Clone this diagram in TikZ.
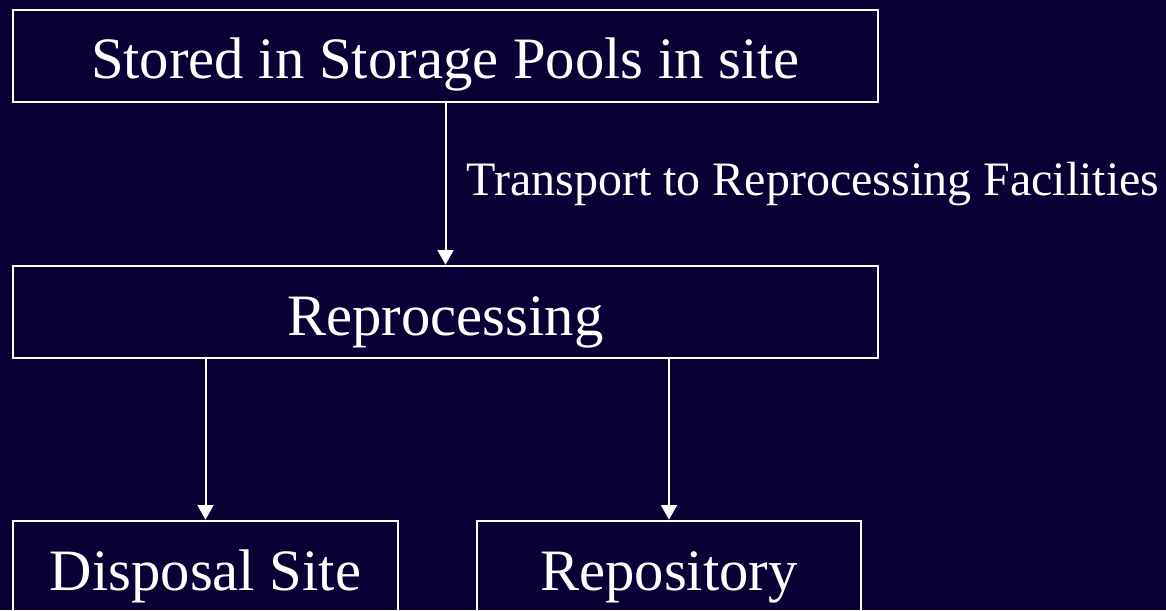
\documentclass[tikz,border=0pt]{standalone}
\usepackage{fontspec}
\setmainfont{Liberation Serif}
\usetikzlibrary{arrows.meta}
\definecolor{slidenavy}{RGB}{10,0,54}

\begin{document}
\begin{tikzpicture}[x=0.75pt,y=-0.75pt,
  stage/.style={draw=white,line width=2pt,text=white,minimum height=69pt,inner sep=0pt,
    text height=34.5pt,text depth=0pt,font=\fontsize{44}{52}\selectfont},
  flow/.style={-{Triangle[length=11pt,width=12pt]},white,line width=1.5pt}]
  % background, also fixes the page size
  \fill[slidenavy] (0,0) rectangle (1166,610);
  \useasboundingbox (0,0) rectangle (1166,610);
  % stages
  \node[stage,minimum width=648.75pt] (pools) at (445.5,56) {Stored in Storage Pools in site};
  \node[stage,minimum width=648.75pt] (repro) at (445.5,312) {Reprocessing};
  \node[stage,minimum width=288.75pt] (disposal) at (205.5,567) {Disposal Site};
  \node[stage,minimum width=288pt] (repository) at (669,567) {Repository};
  % arrows between stages
  \draw[flow] (pools.south) -- (repro.north)
    node[midway,right=15pt,inner sep=0pt,text=white,font=\fontsize{36}{42}\selectfont] (transport)
    {Transport to Reprocessing Facilities};
  \draw[flow] (repro.south -| disposal.north) -- (disposal.north);
  \draw[flow] (repro.south -| repository.north) -- (repository.north);
\end{tikzpicture}
\end{document}
